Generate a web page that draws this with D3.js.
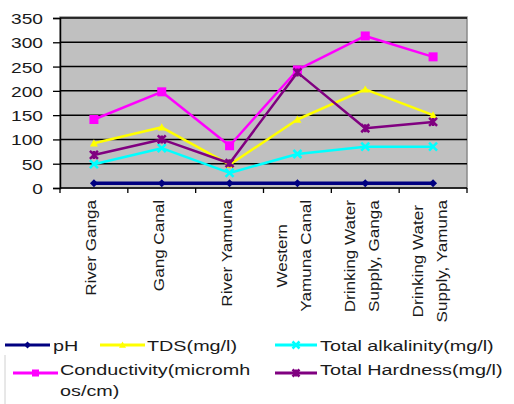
<!DOCTYPE html>
<html><head><meta charset="utf-8">
<script src="https://cdn.jsdelivr.net/npm/d3@7/dist/d3.min.js"></script>
<style>
html,body{margin:0;padding:0;background:#fff;}
svg{display:block;font-family:"Liberation Sans",Arial,sans-serif;}
</style></head><body>
<svg id="c" width="514" height="404"></svg>
<script>
const categories = [["River Ganga"],["Gang Canal"],["River Yamuna"],["Western","Yamuna Canal"],["Drinking Water","Supply, Ganga"],["Drinking Water","Supply, Yamuna"]];
const yTicks = [0,50,100,150,200,250,300,350];
const pH = [10,10,10,10,10,10];
const tds = [92,125,48,141,203,150];
const alkalinity = [49,82,31,70,85,85];
const conductivity = [141,198,87,243,313,270];
const hardness = [68,100,51,238,123,136];

const series = [
  {name:"pH", values:pH, color:"#000080", marker:"diamond"},
  {name:"TDS(mg/l)", values:tds, color:"#ffff00", marker:"triangle"},
  {name:"Total alkalinity(mg/l)", values:alkalinity, color:"#00ffff", marker:"x"},
  {name:"Conductivity(micromhos/cm)", values:conductivity, color:"#ff00ff", marker:"square"},
  {name:"Total Hardness(mg/l)", values:hardness, color:"#800080", marker:"star"}
];

const svg = d3.select("#c");
const L = 60, R = 467, T = 18, B = 188;
const x = d3.scaleBand().domain(d3.range(categories.length)).range([L, R]);
const y = d3.scaleLinear().domain([0, 350]).range([B, T]);
const textCol = "#1a1a1a";

// plot area
svg.append("rect").attr("x", L).attr("y", T-1).attr("width", R-L).attr("height", B-T+1)
  .attr("fill", "#c0c0c0").attr("stroke", "#8a8a8a").attr("stroke-width", 1.5);

// gridlines
svg.append("g").selectAll("line").data(yTicks.filter(d => d > 0)).join("line")
  .attr("x1", L).attr("x2", R).attr("y1", d => y(d)).attr("y2", d => y(d))
  .attr("stroke", "#000").attr("stroke-width", 1.5);

// y axis
const yAxis = svg.append("g").attr("transform", `translate(${L},0)`)
  .call(d3.axisLeft(y).tickValues(yTicks).tickSize(7).tickFormat(d3.format("d")));
yAxis.select(".domain").attr("stroke", "#000").attr("stroke-width", 1.5);
yAxis.selectAll(".tick line").attr("stroke", "#000").attr("stroke-width", 1.3);
yAxis.selectAll(".tick text").remove();
yAxis.selectAll(".tick").append("g").attr("transform", "translate(-17,5.5) scale(1.28,1)")
  .append("text").attr("text-anchor", "end").attr("font-size", 15).attr("fill", textCol)
  .text(d => d);

// x axis
const xb = svg.append("g");
xb.append("line").attr("x1", L).attr("x2", R).attr("y1", B).attr("y2", B)
  .attr("stroke", "#000").attr("stroke-width", 1.5);
xb.selectAll("line.t").data(d3.range(categories.length + 1)).join("line").attr("class", "t")
  .attr("x1", i => L + i * x.step()).attr("x2", i => L + i * x.step())
  .attr("y1", B).attr("y2", B + 5).attr("stroke", "#000").attr("stroke-width", 1.3);

// x labels (rotated)
const sx = 1.22, lineGap = 24, topY = 200;
categories.forEach((lines, i) => {
  const cx = x(i) + x.bandwidth() / 2;
  // measure
  const tmp = svg.append("g");
  const lens = lines.map(t => {
    const n = tmp.append("text").attr("font-size", 14).text(t);
    return n.node().getComputedTextLength() * sx;
  });
  tmp.remove();
  const maxLen = d3.max(lens);
  lines.forEach((t, j) => {
    const off = (j - (lines.length - 1) / 2) * lineGap;
    const bx = cx + 2 + off;
    svg.append("g").attr("transform", `translate(${bx},${topY + maxLen / 2}) rotate(-90) scale(${sx},1)`)
      .append("text").attr("text-anchor", "middle").attr("font-size", 14).attr("fill", textCol).text(t);
  });
});

// markers
function marker(g, type, color, size) {
  const s = size;
  if (type === "diamond") {
    g.append("path").attr("d", `M0,${-s}L${s},0L0,${s}L${-s},0Z`).attr("fill", color);
  } else if (type === "triangle") {
    g.append("path").attr("d", `M0,${-s}L${s},${s*0.8}L${-s},${s*0.8}Z`).attr("fill", color);
  } else if (type === "square") {
    g.append("rect").attr("x", -s).attr("y", -s).attr("width", 2*s).attr("height", 2*s).attr("fill", color);
  } else if (type === "x") {
    g.append("path").attr("d", `M${-s},${-s}L${s},${s}M${-s},${s}L${s},${-s}`).attr("stroke", color).attr("stroke-width", 2.5);
  } else if (type === "star") {
    g.append("path").attr("d", `M${-s},${-s}L${s},${s}M${-s},${s}L${s},${-s}M0,${-s}L0,${s}`).attr("stroke", color).attr("stroke-width", 2.5);
  }
}

const line = d3.line().x((d, i) => x(i) + x.bandwidth() / 2).y(d => y(d));
series.forEach(s => {
  const g = svg.append("g");
  g.append("path").attr("d", line(s.values)).attr("fill", "none").attr("stroke", s.color)
    .attr("stroke-width", s.name === "pH" ? 3.5 : 2.5).attr("stroke-linejoin", "round");
  s.values.forEach((v, i) => {
    marker(g.append("g").attr("transform", `translate(${x(i) + x.bandwidth()/2},${y(v)})`), s.marker, s.color, s.marker === "square" ? 4.5 : 4);
  });
});

// legend
const legendItems = [
  {s: series[0], x1: 5, x2: 50, ly: 345, tx: 53, lines: ["pH"], by: 351},
  {s: series[1], x1: 100, x2: 145, ly: 345, tx: 147, lines: ["TDS(mg/l)"], by: 351},
  {s: series[2], x1: 275, x2: 317, ly: 345, tx: 320, lines: ["Total alkalinity(mg/l)"], by: 351},
  {s: series[3], x1: 13, x2: 58, ly: 373, tx: 60, lines: ["Conductivity(micromh", "os/cm)"], by: 375},
  {s: series[4], x1: 275, x2: 317, ly: 373, tx: 320, lines: ["Total Hardness(mg/l)"], by: 375}
];
const lg = svg.append("g");
lg.append("line").attr("x1", 5).attr("x2", 5).attr("y1", 355).attr("y2", 404).attr("stroke", "#d0d0d0").attr("stroke-width", 1);
legendItems.forEach(it => {
  lg.append("line").attr("x1", it.x1).attr("x2", it.x2).attr("y1", it.ly).attr("y2", it.ly)
    .attr("stroke", it.s.color).attr("stroke-width", 3);
  marker(lg.append("g").attr("transform", `translate(${(it.x1 + it.x2) / 2},${it.ly})`), it.s.marker, it.s.color, 3.5);
  it.lines.forEach((t, j) => {
    lg.append("g").attr("transform", `translate(${it.tx},${it.by + j * 21}) scale(1.32,1)`)
      .append("text").attr("font-size", 15).attr("fill", textCol).text(t);
  });
});
</script>
</body></html>
